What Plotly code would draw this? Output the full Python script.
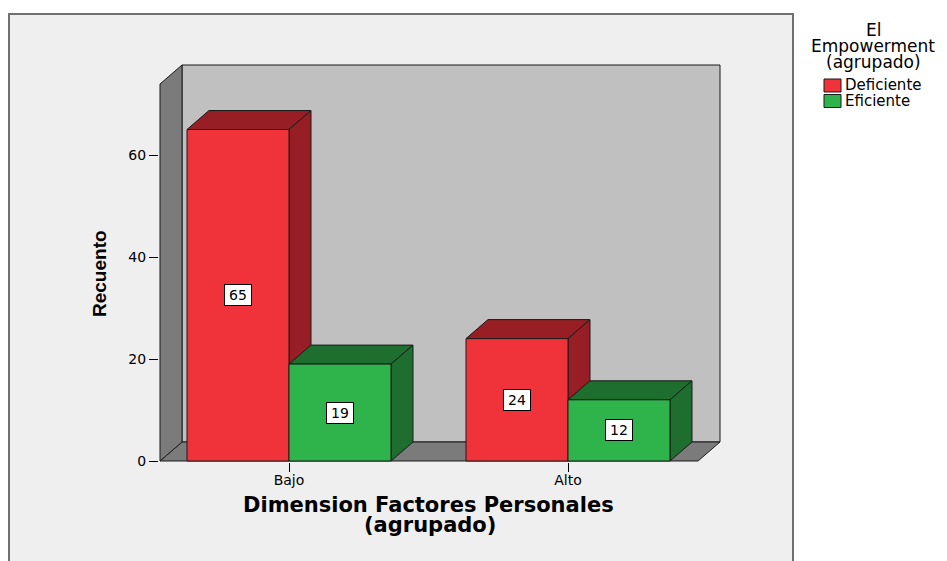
import plotly.graph_objects as go

# ---- data ----
categories = ["Bajo", "Alto"]
series_names = ["Deficiente", "Eficiente"]
deficiente = [65, 24]
eficiente = [19, 12]
y_tick_values = [0, 20, 40, 60]
x_title = "Dimension Factores Personales"
x_title_2 = "(agrupado)"
y_title = "Recuento"
legend_title = ["El", "Empowerment", "(agrupado)"]

# ---- styling ----
FRONT = ["#f0323a", "#2eb44b"]
DARK = ["#961e24", "#1e6e30"]
WALL_BACK = "#c0c0c0"
WALL_SIDE = "#7b7b7b"
BG = "#efefef"
FONT = "DejaVu Sans"

W, H = 947, 561
# plot area in pixels
PL, PR, PT, PB = 159, 723, 62, 462
X0_PX, Y0_PX = 289, 461        # pixel of x=0 / y=0
SX, SY = 279.0, 5.1            # pixels per data unit
x_range = [(PL - X0_PX) / SX, (PR - X0_PX) / SX]
y_range = [(Y0_PX - PB) / SY, (Y0_PX - PT) / SY]

# 3D box geometry in data units
XL = (160 - X0_PX) / SX
XR = (720 - X0_PX) / SX
YTOP = (Y0_PX - 65) / SY
DX = 22 / SX
DY = 19 / SY
BW = 102 / SX


def px_x(px):
    return (px - PL) / (PR - PL)


def px_y(py):
    return (PB - py) / (PB - PT)


def poly(points):
    return "M " + " L ".join(f"{x},{y}" for x, y in points) + " Z"


positions = list(range(len(categories)))
series = [deficiente, eficiente]
offsets = [-BW, 0.0]

shapes = []
# outer chart frame
shapes.append(dict(type="rect", xref="paper", yref="paper", layer="below",
                   x0=px_x(9), x1=px_x(793), y0=px_y(600), y1=px_y(14),
                   fillcolor=BG, line=dict(color="#707070", width=2)))

edge = dict(color="#1a1a1a", width=1)
# back wall
shapes.append(dict(type="path", xref="x", yref="y", layer="below",
                   path=poly([(XL + DX, DY), (XR, DY), (XR, YTOP), (XL + DX, YTOP)]),
                   fillcolor=WALL_BACK, line=edge))
# floor
shapes.append(dict(type="path", xref="x", yref="y", layer="below",
                   path=poly([(XL, 0), (XR - DX, 0), (XR, DY), (XL + DX, DY)]),
                   fillcolor=WALL_SIDE, line=edge))
# left wall
shapes.append(dict(type="path", xref="x", yref="y", layer="below",
                   path=poly([(XL, 0), (XL + DX, DY), (XL + DX, YTOP), (XL, YTOP - DY)]),
                   fillcolor=WALL_SIDE, line=edge))

# top and side faces of each bar
for ci, p in enumerate(positions):
    for si, vals in enumerate(series):
        a = p + offsets[si]
        h = vals[ci]
        shapes.append(dict(type="path", xref="x", yref="y", layer="below",
                           path=poly([(a, h), (a + BW, h), (a + BW + DX, h + DY), (a + DX, h + DY)]),
                           fillcolor=DARK[si], line=edge))
        shapes.append(dict(type="path", xref="x", yref="y", layer="below",
                           path=poly([(a + BW, 0), (a + BW + DX, DY), (a + BW + DX, h + DY), (a + BW, h)]),
                           fillcolor=DARK[si], line=edge))

fig = go.Figure()
for si, vals in enumerate(series):
    fig.add_trace(go.Bar(
        x=positions, y=vals, name=series_names[si],
        width=BW, offset=offsets[si],
        marker=dict(color=FRONT[si], line=dict(color="#1a1a1a", width=1)),
        showlegend=False,
    ))

annotations = []
# value labels
for si, vals in enumerate(series):
    for ci, p in enumerate(positions):
        annotations.append(dict(
            x=p + offsets[si] + BW / 2, y=vals[ci] / 2, xref="x", yref="y",
            xanchor="center", yanchor="middle",
            text=str(vals[ci]), showarrow=False,
            bgcolor="white", bordercolor="black", borderwidth=1, borderpad=2,
            width=22, font=dict(family=FONT, size=14, color="black")))


def label(px, py, text, size, family=FONT, xanchor="center", angle=0):
    annotations.append(dict(x=px_x(px), y=px_y(py), xref="paper", yref="paper",
                            xanchor=xanchor, yanchor="middle", textangle=angle,
                            text=text, showarrow=False,
                            font=dict(family=family, size=size, color="black")))


# axis titles
label(428, 505, f"<b>{x_title}</b>", 21)
label(430, 525, f"<b>{x_title_2}</b>", 21)
label(99, 274, f"<b>{y_title}</b>", 19, family="Liberation Sans", angle=-90)

# legend
for txt, py in zip(legend_title, [30, 46, 62]):
    label(873, py, txt, 17)
for si, (name, py) in enumerate(zip(series_names, [85.5, 101])):
    shapes.append(dict(type="rect", xref="paper", yref="paper",
                       x0=px_x(824), x1=px_x(841), y0=px_y(py + 6.5), y1=px_y(py - 6.5),
                       fillcolor=FRONT[si], line=dict(color="#1a1a1a", width=1)))
    label(843, py, name, 15, xanchor="left")

fig.update_layout(
    width=W, height=H,
    margin=dict(l=PL, r=W - PR, t=PT, b=H - PB, pad=0),
    paper_bgcolor="white", plot_bgcolor="rgba(0,0,0,0)",
    barmode="overlay",
    shapes=shapes, annotations=annotations,
    xaxis=dict(range=x_range, tickvals=positions, ticktext=categories,
               showgrid=False, zeroline=False, showline=False,
               ticks="outside", ticklen=9, tickcolor="black",
               ticklabelstandoff=-4,
               tickfont=dict(family=FONT, size=14, color="black")),
    yaxis=dict(range=y_range, tickvals=y_tick_values,
               showgrid=False, zeroline=False, showline=False,
               ticks="outside", ticklen=9, tickcolor="black",
               tickfont=dict(family=FONT, size=14, color="black")),
    font=dict(family=FONT),
)

fig.write_html("out.html")
